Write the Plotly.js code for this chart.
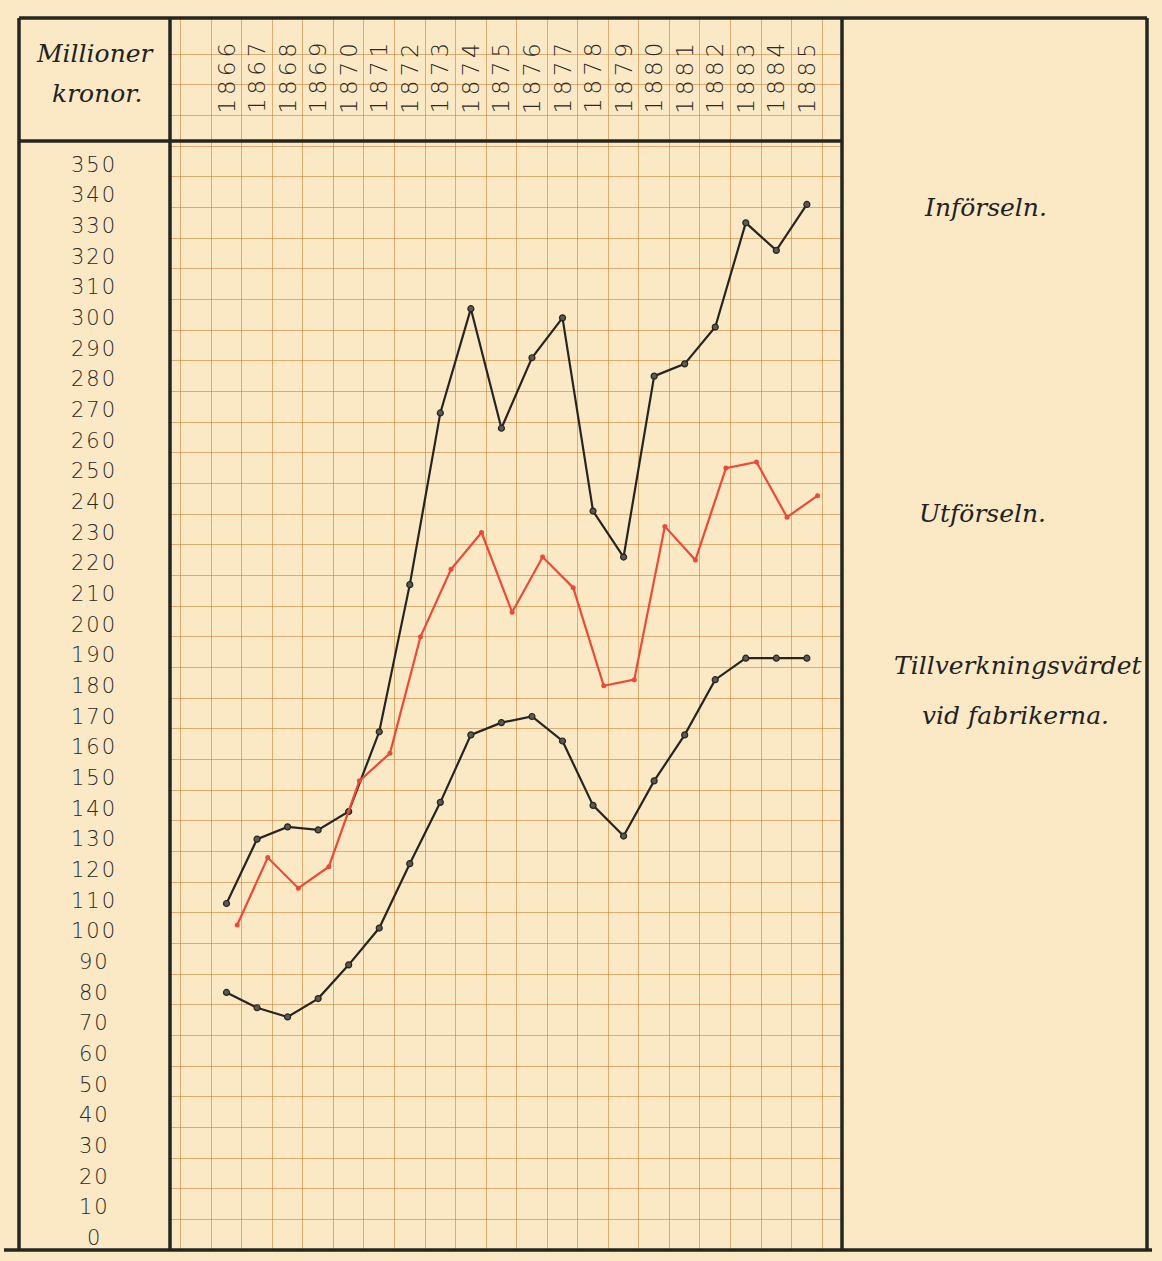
<!DOCTYPE html>
<html>
<head>
<meta charset="utf-8">
<script src="https://cdn.plot.ly/plotly-3.0.1.min.js"></script>
<style>
  html, body { margin: 0; padding: 0; background: #fbe9c6; }
  #chart { width: 1162px; height: 1261px; }
</style>
</head>
<body>
<div id="chart"></div>
<script>
// ---------------- data ----------------
const years = [1866, 1867, 1868, 1869, 1870, 1871, 1872, 1873, 1874, 1875,
               1876, 1877, 1878, 1879, 1880, 1881, 1882, 1883, 1884, 1885];
const yearLabels = ['1866', '1867', '1868', '1869', '1870', '1871', '1872', '1873', '1874', '1875',
                    '1876', '1877', '1878', '1879', '1880', '1881', '1882', '1883', '1884', '1885'];
// Millioner kronor
const imports    = [113, 134, 138, 137, 143, 169, 217, 273, 307, 268,
                    291, 304, 241, 226, 285, 289, 301, 335, 326, 341];
const exportsVal = [106, 128, 118, 125, 153, 162, 200, 222, 234, 208,
                    226, 216, 184, 186, 236, 225, 255, 257, 239, 246];
const production = [84, 79, 76, 82, 93, 105, 126, 146, 168, 172,
                    174, 166, 145, 135, 153, 168, 186, 193, 193, 193];
const yTickValues = [0, 10, 20, 30, 40, 50, 60, 70, 80, 90, 100, 110, 120, 130, 140, 150, 160, 170,
                     180, 190, 200, 210, 220, 230, 240, 250, 260, 270, 280, 290, 300, 310, 320, 330, 340, 350];
const yTickLabels = ['0', '10', '20', '30', '40', '50', '60', '70', '80', '90', '100', '110', '120', '130',
                     '140', '150', '160', '170', '180', '190', '200', '210', '220', '230', '240', '250',
                     '260', '270', '280', '290', '300', '310', '320', '330', '340', '350'];
const unitTitle = ['Millioner', 'kronor.'];
const seriesNames = ['Införseln.', 'Utförseln.', 'Tillverkningsvärdet', 'vid fabrikerna.'];

// ---------------- layout geometry (pixels) ----------------
const W = 1162, H = 1261;
const L = 170, R = 842, T = 18, B = 1250;
const fx = px => (px - L) / (R - L);   // pixel x -> paper x
const fy = py => (B - py) / (B - T);   // pixel y -> paper y

const INK = '#252521';
const TEXT = '#2a2a27';
const GRID = 'rgba(200,132,62,0.62)';
const RED = '#ec4a36';
const EXPORT_SHIFT = 0.35; // exports were plotted slightly right of the year centre

const gridVals = [];
for (let v = 0; v <= 390; v += 10) gridVals.push(v);

const traces = [
  {
    x: years, y: imports, type: 'scatter', mode: 'lines+markers', name: seriesNames[0],
    line: { color: INK, width: 2.2 },
    marker: { size: 6, color: '#5a5a52', line: { color: INK, width: 1.2 } }
  },
  {
    x: years.map(y => y + EXPORT_SHIFT), y: exportsVal, type: 'scatter', mode: 'lines+markers', name: seriesNames[1],
    line: { color: RED, width: 2.2 },
    marker: { size: 5, color: RED }
  },
  {
    x: years, y: production, type: 'scatter', mode: 'lines+markers', name: seriesNames[2] + ' ' + seriesNames[3],
    line: { color: INK, width: 2.2 },
    marker: { size: 6, color: '#5a5a52', line: { color: INK, width: 1.2 } }
  }
];

const shapes = [];
function hline(x0, x1, py, w) {
  shapes.push({ type: 'line', xref: 'paper', yref: 'paper', x0: fx(x0), x1: fx(x1), y0: fy(py), y1: fy(py),
                line: { color: INK, width: w } });
}
function vline(px, y0, y1, w) {
  shapes.push({ type: 'line', xref: 'paper', yref: 'paper', x0: fx(px), x1: fx(px), y0: fy(y0), y1: fy(y1),
                line: { color: INK, width: w } });
}
hline(19, 1147, T, 3.5);      // frame top
hline(4, 1152, B, 3.5);       // frame bottom
vline(19, T, B, 3.5);         // frame left
vline(1147, T, B, 3.5);       // frame right
vline(L, T, B, 3.5);          // grid left
vline(R, T, B, 3.5);          // grid right
hline(19, R, 141, 3.5);       // header bottom

const annotations = [];
// y labels (written just above their ruled line)
yTickValues.forEach((v, i) => {
  annotations.push({
    xref: 'paper', yref: 'y', x: fx(94), y: v, yshift: 12,
    text: '<span style="letter-spacing:2px">' + yTickLabels[i] + '</span>',
    showarrow: false, xanchor: 'center', yanchor: 'middle',
    font: { family: 'DejaVu Sans', size: 21, color: TEXT, weight: 300 }
  });
});
// year labels (rotated in the header)
years.forEach((yr, i) => {
  annotations.push({
    xref: 'x', yref: 'paper', x: yr, y: fy(76),
    text: '<span style="letter-spacing:4px">' + yearLabels[i] + '</span>',
    textangle: -90, showarrow: false, xanchor: 'center', yanchor: 'middle',
    font: { family: 'DejaVu Sans', size: 23, color: TEXT, weight: 300 }
  });
});
// unit title
annotations.push({ xref: 'paper', yref: 'paper', x: fx(95), y: fy(53), text: unitTitle[0], showarrow: false,
  xanchor: 'center', yanchor: 'middle', font: { family: 'DejaVu Serif', size: 25, style: 'italic', color: '#222' } });
annotations.push({ xref: 'paper', yref: 'paper', x: fx(97), y: fy(94), text: unitTitle[1], showarrow: false,
  xanchor: 'center', yanchor: 'middle', font: { family: 'DejaVu Serif', size: 25, style: 'italic', color: '#222' } });
// series names (right panel)
const nameFont = { family: 'DejaVu Serif', size: 25, style: 'italic', color: '#222' };
[[985, 207, 0], [982, 513, 1], [1018, 665, 2], [1015, 715, 3]].forEach(p => {
  annotations.push({ xref: 'paper', yref: 'paper', x: fx(p[0]), y: fy(p[1]), text: seriesNames[p[2]],
    showarrow: false, xanchor: 'center', yanchor: 'middle', font: nameFont });
});

const layout = {
  width: W, height: H,
  margin: { l: L, r: W - R, t: T, b: H - B, pad: 0 },
  paper_bgcolor: '#fbe9c6', plot_bgcolor: '#fbe9c6',
  showlegend: false,
  xaxis: {
    range: [1864.15, 1886.15], tickmode: 'linear', tick0: 1864.5, dtick: 1,
    showgrid: true, gridcolor: GRID, gridwidth: 1,
    showticklabels: false, ticks: '', zeroline: false, showline: false, fixedrange: true
  },
  yaxis: {
    range: [0, 401.8], tickmode: 'array', tickvals: gridVals,
    showgrid: true, gridcolor: GRID, gridwidth: 1,
    showticklabels: false, ticks: '', zeroline: false, showline: false, fixedrange: true
  },
  shapes: shapes,
  annotations: annotations
};

Plotly.newPlot('chart', traces, layout, { displayModeBar: false, staticPlot: true });
</script>
</body>
</html>
